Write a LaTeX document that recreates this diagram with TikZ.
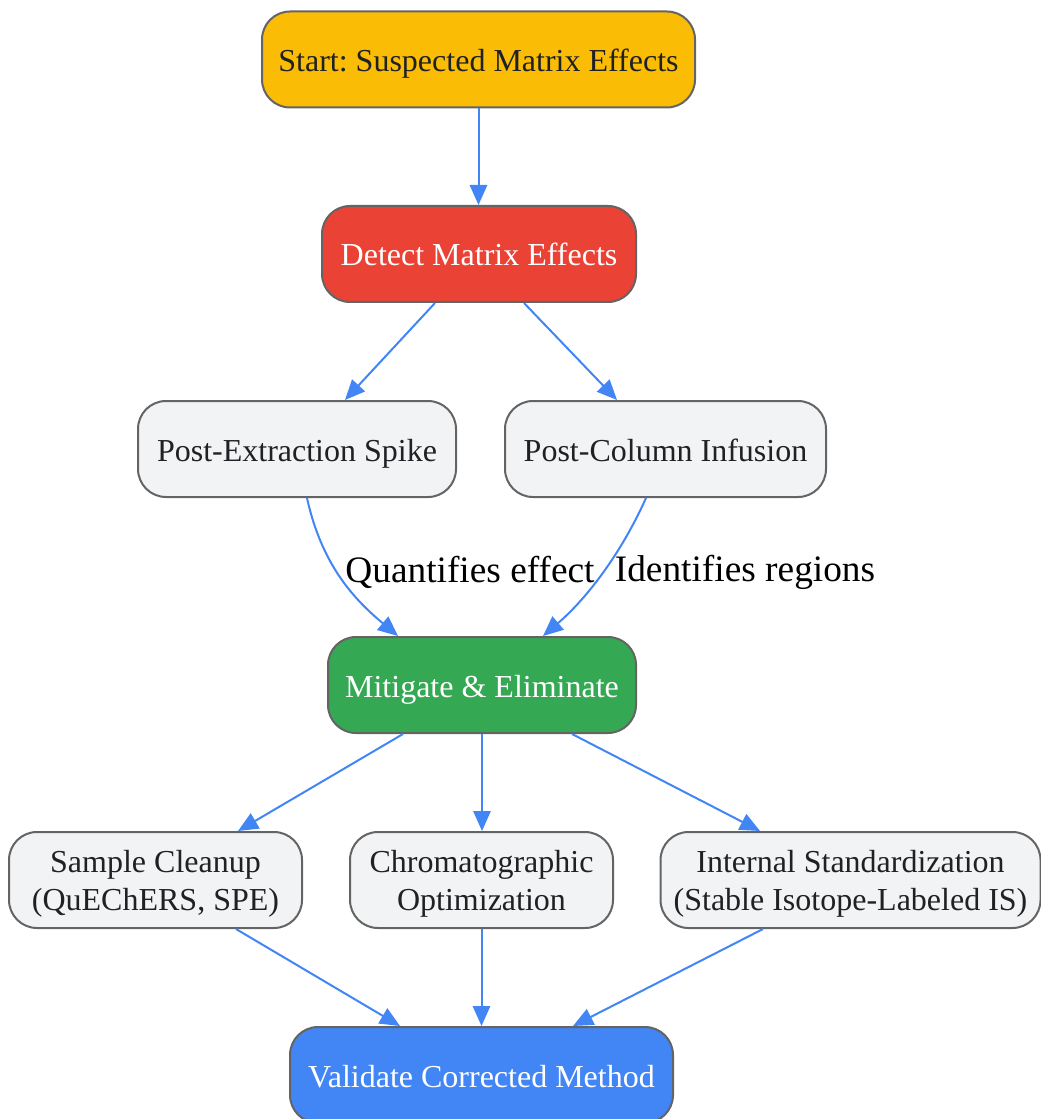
\documentclass[tikz,border=0pt]{standalone}
\usepackage{fontspec}
\setmainfont{Liberation Serif}
\usetikzlibrary{calc,arrows.meta}
\definecolor{cyellow}{HTML}{FBBC05}
\definecolor{cred}{HTML}{EA4335}
\definecolor{cgreen}{HTML}{34A853}
\definecolor{cblue}{HTML}{4285F4}
\definecolor{clight}{HTML}{F1F3F4}
\definecolor{cborder}{HTML}{646464}
\definecolor{ctext}{HTML}{202124}
\frenchspacing
\begin{document}
\begin{tikzpicture}[x=0.75pt,y=-0.75pt,
  box/.style={draw=cborder,line width=1.5pt,rounded corners=21pt,minimum height=72pt,
    inner sep=0pt,align=center,font=\fontsize{24}{28.5}\selectfont,text=ctext,
    text height=18pt,text depth=0pt},
  lightbox/.style={box,fill=clight},
  twoline/.style={text height=45pt,text depth=0pt},
  conn/.style={draw=cblue,line width=1.5pt,-{Triangle[length=15pt,width=13pt]}},
  elabel/.style={font=\fontsize{28}{33}\selectfont,text=black,inner sep=0pt}]
\useasboundingbox (0,0) rectangle (1040,1119);
\node[box,fill=cyellow,minimum width=324.75pt] (start) at (478.5,59.5) {Start: Suspected Matrix Effects};
\node[box,fill=cred,text=white,minimum width=235.5pt] (detect) at (479,254) {Detect Matrix Effects};
\node[lightbox,minimum width=238.5pt] (pes) at (297,449) {Post-Extraction Spike};
\node[lightbox,minimum width=240.75pt] (pci) at (665.5,449) {Post-Column Infusion};
\node[box,fill=cgreen,text=white,minimum width=231pt] (mit) at (482,685) {Mitigate \& Eliminate};
\node[lightbox,twoline,minimum width=219.75pt] (sc) at (155.5,880) {Sample Cleanup\\(QuEChERS, SPE)};
\node[lightbox,twoline,minimum width=197.25pt] (chrom) at (481.5,880) {Chromatographic\\Optimization};
\node[lightbox,twoline,minimum width=285pt] (isd) at (850.5,880) {Internal Standardization\\(Stable Isotope-Labeled IS)};
\node[box,fill=cblue,text=white,minimum width=287.25pt] (val) at (481.5,1075) {Validate Corrected Method};
\node[elabel] (lq) at (470,572) {Quantifies effect};
\node[elabel] (li) at (745,572) {Identifies regions};
\draw[conn] (start.south) -- (detect.north -| start.south);
\draw[conn] ($(detect.south)+(-44,0)$) -- ($(pes.north)+(48,0)$);
\draw[conn] ($(detect.south)+(45,0)$) -- ($(pci.north)+(-48.5,0)$);
\draw[conn] ($(pes.south)+(10,0)$) .. controls +(15,68) and +(-43,-36) .. ($(mit.north)+(-84,0)$);
\draw[conn] ($(pci.south)+(-19.5,0)$) .. controls +(-26,58) and +(42,-36) .. ($(mit.north)+(61,0)$);
\draw[conn] ($(mit.south)+(-79,0)$) -- ($(sc.north)+(82.5,0)$);
\draw[conn] (mit.south) -- (chrom.north -| mit.south);
\draw[conn] ($(mit.south)+(90,0)$) -- ($(isd.north)+(-90.5,0)$);
\draw[conn] ($(sc.south)+(80.5,0)$) -- ($(val.north)+(-81.5,0)$);
\draw[conn] (chrom.south) -- (val.north);
\draw[conn] ($(isd.south)+(-87.5,0)$) -- ($(val.north)+(91.5,0)$);
\end{tikzpicture}
\end{document}
